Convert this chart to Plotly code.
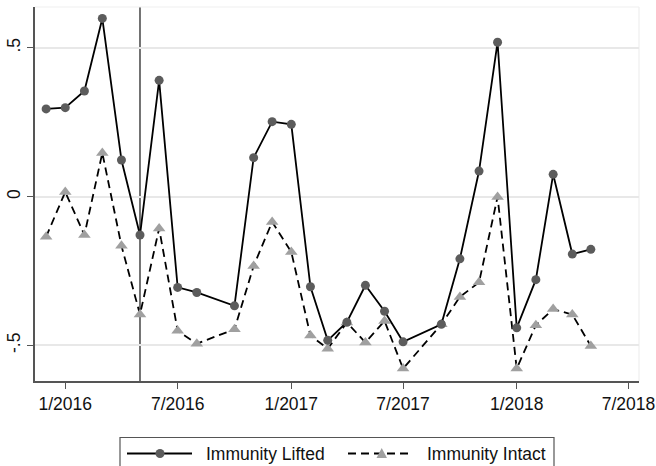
import plotly.graph_objects as go

# Monthly observations (first of month); Sep 2016 and Aug 2017 are absent
months = [
    "2015-12-01", "2016-01-01", "2016-02-01", "2016-03-01", "2016-04-01",
    "2016-05-01", "2016-06-01", "2016-07-01", "2016-08-01", "2016-10-01",
    "2016-11-01", "2016-12-01", "2017-01-01", "2017-02-01", "2017-03-01",
    "2017-04-01", "2017-05-01", "2017-06-01", "2017-07-01", "2017-09-01",
    "2017-10-01", "2017-11-01", "2017-12-01", "2018-01-01", "2018-02-01",
    "2018-03-01", "2018-04-01", "2018-05-01",
]
immunity_lifted = [
    0.295, 0.299, 0.355, 0.599, 0.123,
    -0.129, 0.391, -0.305, -0.322, -0.367,
    0.131, 0.252, 0.243, -0.303, -0.483,
    -0.422, -0.298, -0.385, -0.488, -0.429,
    -0.209, 0.086, 0.519, -0.441, -0.279,
    0.075, -0.193, -0.177,
]
immunity_intact = [
    -0.135, 0.016, -0.129, 0.147, -0.165,
    -0.396, -0.107, -0.451, -0.494, -0.446,
    -0.233, -0.085, -0.186, -0.467, -0.511,
    -0.423, -0.490, -0.418, -0.578, -0.429,
    -0.337, -0.288, -0.001, -0.578, -0.432,
    -0.378, -0.396, -0.502,
]
event_date = "2016-05-01"

x_tickvals = ["2016-01-01", "2016-07-01", "2017-01-01", "2017-07-01", "2018-01-01", "2018-07-01"]
x_ticktext = ["1/2016", "7/2016", "1/2017", "7/2017", "1/2018", "7/2018"]
y_tickvals = [-0.5, 0, 0.5]
y_ticktext = ["-.5", "0", ".5"]

FONT = "Liberation Sans, Arial, sans-serif"
W, H = 656, 466
ML, MR, MT, MB = 35, 17, 7, 85
PW, PH = W - ML - MR, H - MT - MB


def px(x):
    return (x - ML) / PW


def py(y):
    return (H - MB - y) / PH


fig = go.Figure()
fig.add_trace(go.Scatter(
    x=months, y=immunity_intact, mode="lines+markers", name="Immunity Intact",
    line=dict(color="black", width=1.8, dash="8px,5px"),
    marker=dict(symbol="triangle-up", size=11, color="#a0a0a0"),
    showlegend=False,
))
fig.add_trace(go.Scatter(
    x=months, y=immunity_lifted, mode="lines+markers", name="Immunity Lifted",
    line=dict(color="black", width=1.8),
    marker=dict(symbol="circle", size=9, color="#5c5c5c"),
    showlegend=False,
))

shapes = [
    # event marker
    dict(type="line", xref="x", yref="paper", x0=event_date, x1=event_date, y0=0, y1=1,
         line=dict(color="#505050", width=1.6), layer="between"),
    # faint plot-region outline on top and right
    dict(type="line", xref="paper", yref="paper", x0=0, x1=1, y0=1, y1=1,
         line=dict(color="#efefef", width=1.2), layer="below"),
    dict(type="line", xref="paper", yref="paper", x0=1, x1=1, y0=0, y1=1,
         line=dict(color="#efefef", width=1.2), layer="below"),
    # legend box
    dict(type="rect", xref="paper", yref="paper", x0=px(120), x1=px(554), y0=py(480), y1=py(437.5),
         line=dict(color="#555555", width=1.2)),
    # legend keys
    dict(type="line", xref="paper", yref="paper", x0=px(127), x1=px(192), y0=py(453.5), y1=py(453.5),
         line=dict(color="black", width=1.8)),
    dict(type="circle", xref="paper", yref="paper", x0=px(155.5), x1=px(164.5), y0=py(458), y1=py(449),
         fillcolor="#5c5c5c", line=dict(width=0)),
    dict(type="line", xref="paper", yref="paper", x0=px(348), x1=px(413), y0=py(453.5), y1=py(453.5),
         line=dict(color="black", width=1.8, dash="8px,5px")),
    dict(type="path", xref="paper", yref="paper",
         path=f"M {px(376.5)} {py(458)} L {px(387)} {py(458)} L {px(381.7)} {py(448)} Z",
         fillcolor="#a0a0a0", line=dict(width=0)),
]

annotations = [
    dict(text="Immunity Lifted", xref="paper", yref="paper", x=px(204), y=py(453.5),
         xanchor="left", yanchor="middle", showarrow=False, font=dict(size=17.5, color="#111", family=FONT)),
    dict(text="Immunity Intact", xref="paper", yref="paper", x=px(425), y=py(453.5),
         xanchor="left", yanchor="middle", showarrow=False, font=dict(size=17.5, color="#111", family=FONT)),
]

fig.update_layout(
    width=W, height=H,
    margin=dict(l=ML, r=MR, t=MT, b=MB, autoexpand=False),
    paper_bgcolor="white", plot_bgcolor="white",
    font=dict(family=FONT, size=17.5, color="#111"),
    shapes=shapes, annotations=annotations,
    showlegend=False,
)
fig.update_xaxes(
    type="date", range=["2015-11-13", "2018-07-18"], automargin=False,
    tickmode="array", tickvals=x_tickvals, ticktext=x_ticktext,
    showgrid=False, zeroline=False,
    showline=True, linecolor="#555555", linewidth=1.5,
    ticks="outside", ticklen=6, tickwidth=1.3, tickcolor="#555555",
    tickfont=dict(size=17.5, color="#111"),
)
fig.update_yaxes(
    range=[-0.6196, 0.6374], automargin=False,
    tickmode="array", tickvals=y_tickvals, ticktext=y_ticktext, tickangle=-90,
    showgrid=True, gridcolor="#e8e8e8", gridwidth=1.5, zeroline=False,
    showline=True, linecolor="#555555", linewidth=1.5,
    ticks="outside", ticklen=6, tickwidth=1.3, tickcolor="#555555",
    tickfont=dict(size=17.5, color="#111"),
)

fig.write_html("out.html")
